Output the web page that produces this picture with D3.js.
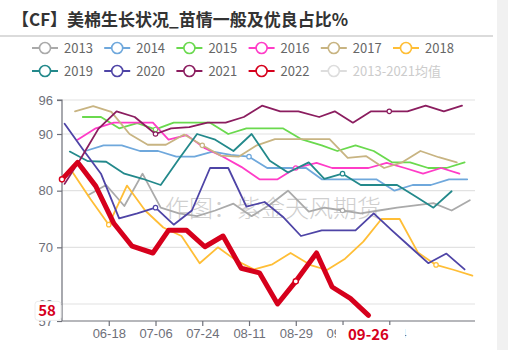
<!DOCTYPE html>
<html>
<head>
<meta charset="utf-8">
<script src="https://cdn.jsdelivr.net/npm/d3@7"></script>
<style>
  body { margin: 0; background: #fff; }
  svg { display: block; font-family: "Noto Sans CJK SC", "Noto Sans", sans-serif; }
</style>
</head>
<body>
<svg id="chart" width="508" height="350"></svg>
<script>
// Weekly US cotton crop condition: share rated fair + good + excellent (%)
const years = ["2013", "2014", "2015", "2016", "2017", "2018", "2019", "2020", "2021", "2022"];
const firstReport = ["2013-06-10", "2014-06-09", "2015-06-08", "2016-06-06", "2017-06-05",
                     "2018-06-04", "2019-06-03", "2020-06-01", "2021-06-01", "2022-05-31"];
const v2013 = [79.2, 81, 77.3, 83, 77, 76, 75.5, 76.5, 77.7, 75.5, 77.5, 80, 76.3, 77, 76.5, 76, 76.5, 77, 77.4, 77.8, 76.5, 78.3];
const v2014 = [87, 88, 88, 87, 87, 86, 86, 86.9, 86.3, 86, 84, 84, 84, 82, 82, 82, 82, 80, 81, 81, 82, 82];
const v2015 = [93, 93, 91, 91.9, 90.8, 92, 92, 92, 90, 91, 91, 91, 89.1, 88, 87, 88, 87, 85, 85, 84, 84, 85];
const v2016 = [89, 91, 92, 92, 92, 89, 89.8, 87.5, 86, 84.2, 82, 82, 84, 84.9, 84, 84, 84, 84.9, 84, 83, 84, 83];
const v2017 = [94, 94.9, 93.9, 90, 88.1, 88.1, 89.9, 88, 86.2, 86, 88, 89.1, 89.1, 89.1, 89.1, 85.8, 86.1, 84, 85, 87, 85.9, 85];
const v2018 = [83.3, 78.5, 74, 80.9, 76.5, 73.5, 72, 67.2, 70, 67.7, 66.1, 67, 69, 66.8, 66, 68, 71, 75, 75, 69.1, 66.9, 66, 65];
const v2019 = [86.9, 85.2, 85.1, 83, 82.1, 81, 85.6, 90, 89, 87, 90, 85.3, 83.2, 85, 82.1, 83, 81, 81, 81, 79, 77, 79.9];
const v2020 = [91.8, 87.3, 83, 75.1, 76, 77, 74, 76.5, 84, 84, 77.2, 78, 75.4, 72, 73, 73, 73, 76, 73, 70.1, 67.2, 68.9, 66.1];
const v2021 = [81.2, 85.5, 90.9, 94, 93, 90, 91, 91.2, 92, 92, 93, 95, 94, 94, 93, 94, 92, 94, 94, 94, 95, 94, 95];
const v2022 = [82, 85, 80.8, 74.2, 70.2, 69, 73, 73, 70.1, 72, 66.3, 65.5, 60, 64, 69, 63, 61, 58];
const seriesValues = [v2013, v2014, v2015, v2016, v2017, v2018, v2019, v2020, v2021, v2022];
const seriesColors = ["#aaaaaa", "#6fa8dc", "#6ad94e", "#ff3cc7", "#c8b482",
                      "#ffbe36", "#23898b", "#4e44a6", "#8b1d5f", "#d6001c"];

const legendNames = [...years, "2013-2021均值"];
const legendColors = [...seriesColors, "#dddddd"];
const legendOff = [false, false, false, false, false, false, false, false, false, false, true];

const yTicks = [57, 60, 70, 80, 90, 96];
const xTickLabels = ["06-18", "07-06", "07-24", "08-11", "08-29", "09-16", "10-04"];
const symbolDates = ["05-31", "06-18", "07-06", "07-24", "08-11", "08-29", "09-16", "10-04", "10-22"];
const axisStart = "05-31", axisEnd = "11-06";
const title = "【CF】美棉生长状况_苗情一般及优良占比%";
const watermark = "作图：紫金天风期货";

const svg = d3.select("#chart");
const W = 508, H = 350;
const plot = { left: 62, right: 475, top: 100, bottom: 321 };

const parseFull = d3.timeParse("%Y-%m-%d");
const parseMD = s => d3.timeParse("%Y-%m-%d")("2001-" + s);
const fmtMD = d3.timeFormat("%m-%d");
const toSeason = d => new Date(2001, d.getMonth(), d.getDate());

// Reports come out on Mondays, or the Tuesday after a federal holiday
function isHoliday(d) {
  const m = d.getMonth() + 1, day = d.getDate();
  return (m === 5 && day >= 25) || (m === 7 && (day === 4 || day === 5)) || (m === 9 && day <= 7);
}
function reportDates(first, n) {
  const mon = d3.timeMonday.floor(parseFull(first));
  return d3.range(n).map(i => {
    const d = d3.timeDay.offset(mon, 7 * i);
    return isHoliday(d) ? d3.timeDay.offset(d, 1) : d;
  });
}

const x = d3.scaleTime([parseMD(axisStart), parseMD(axisEnd)], [plot.left, plot.right]);
const y = d3.scaleLinear([57, 96], [plot.bottom, plot.top]);

// page frame
svg.append("rect").attr("x", 0).attr("y", 0).attr("width", W).attr("height", H).attr("fill", "#fff");
svg.append("rect").attr("x", 497).attr("y", 0).attr("width", 11).attr("height", H).attr("fill", "#f1f1f1");

// title and rule
svg.append("text").attr("x", 12).attr("y", 26)
  .attr("font-size", 17).attr("font-weight", "bold").attr("fill", "#333").text(title);
svg.append("line").attr("x1", 0).attr("x2", 493).attr("y1", 36).attr("y2", 36)
  .attr("stroke", "#cfcfcf").attr("stroke-width", 1.5);

// legend
const legend = svg.append("g");
legendNames.forEach((name, i) => {
  const row = i < 6 ? 0 : 1, col = i < 6 ? i : i - 6;
  const lx = 32 + col * 72.2, ly = row === 0 ? 48 : 71;
  const c = legendOff[i] ? "#dddddd" : legendColors[i];
  const g = legend.append("g").attr("transform", `translate(${lx},${ly})`);
  g.append("line").attr("x1", 0).attr("x2", 26).attr("y1", 0).attr("y2", 0)
    .attr("stroke", c).attr("stroke-width", 2);
  g.append("circle").attr("cx", 13).attr("cy", 0).attr("r", 5.5)
    .attr("fill", "#fff").attr("stroke", c).attr("stroke-width", 1.6);
  g.append("text").attr("x", 32).attr("y", 0).attr("dy", "0.35em")
    .attr("font-size", 13).attr("fill", legendOff[i] ? "#cccccc" : "#666").text(name);
});

// grid
svg.append("g").selectAll("line").data(yTicks.filter(t => t !== 57)).join("line")
  .attr("x1", plot.left).attr("x2", plot.right)
  .attr("y1", d => y(d)).attr("y2", d => y(d))
  .attr("stroke", "#e2e2e2").attr("stroke-width", 1.2);

// watermark
svg.append("text").attr("x", 165).attr("y", 208).attr("dy", "0.36em")
  .attr("font-size", 24).attr("font-weight", 300).attr("fill", "#a8a8a8").attr("opacity", 0.55)
  .text(watermark);

// axes
const axisColor = "#6e7079";
const yAxis = svg.append("g").attr("transform", `translate(${plot.left},0)`)
  .call(d3.axisLeft(y).tickValues(yTicks).tickSize(5).tickPadding(4).tickFormat(d3.format("d")));
const xAxis = svg.append("g").attr("transform", `translate(0,${plot.bottom})`)
  .call(d3.axisBottom(x).tickValues(xTickLabels.map(parseMD)).tickSize(5).tickPadding(2.5)
    .tickFormat(fmtMD));
[yAxis, xAxis].forEach(a => {
  a.select(".domain").attr("stroke", axisColor).attr("stroke-width", 1.2);
  a.selectAll(".tick line").attr("stroke", axisColor).attr("stroke-width", 1.2);
  a.selectAll(".tick text").attr("fill", axisColor).attr("font-size", 13);
});
yAxis.select(".domain").attr("d", `M-5,${plot.top}H0V${plot.bottom}`);
xAxis.select(".domain").attr("d", `M${plot.left},0H${plot.right}`);

// series lines
const line = d3.line().x(d => x(toSeason(d.date))).y(d => y(d.value));
const lines = svg.append("g");
years.forEach((yr, i) => {
  const vals = seriesValues[i];
  const dates = reportDates(firstReport[i], vals.length);
  const pts = vals.map((v, k) => ({ date: dates[k], value: v }));
  const isCurrent = i === years.length - 1;
  lines.append("path").datum(pts).attr("d", line)
    .attr("fill", "none").attr("stroke", seriesColors[i])
    .attr("stroke-width", isCurrent ? 5 : 1.8)
    .attr("stroke-linejoin", "round").attr("stroke-linecap", "round");
  lines.append("g").selectAll("circle")
    .data(pts.filter(p => symbolDates.includes(fmtMD(p.date)))).join("circle")
    .attr("cx", d => x(toSeason(d.date))).attr("cy", d => y(d.value))
    .attr("r", isCurrent ? 2.6 : 2.2)
    .attr("fill", "#fff").attr("stroke", seriesColors[i]).attr("stroke-width", isCurrent ? 1.4 : 1.2);
  if (isCurrent) {
    const last = pts[pts.length - 1];
    const px = x(toSeason(last.date)), py = y(last.value);
    // pointer labels on both axes for the latest reading
    const lab = svg.append("g");
    lab.append("rect").attr("x", 35).attr("y", py - 14).attr("width", 26).attr("height", 19)
      .attr("rx", 3).attr("fill", "#fff").attr("stroke", "#ececec");
    lab.append("text").attr("x", 47).attr("y", py - 4.5).attr("dy", "0.35em")
      .attr("text-anchor", "middle").attr("font-size", 15).attr("font-weight", "bold")
      .attr("fill", seriesColors[i]).text(d3.format("d")(last.value));
    lab.append("rect").attr("x", px - 32.5).attr("y", plot.bottom + 4).attr("width", 69).attr("height", 20)
      .attr("fill", "#fff");
    lab.append("text").attr("x", px).attr("y", plot.bottom + 13.5).attr("dy", "0.35em")
      .attr("text-anchor", "middle").attr("font-size", 15).attr("font-weight", "bold")
      .attr("fill", seriesColors[i]).text(fmtMD(last.date));
  }
});
</script>
</body>
</html>
